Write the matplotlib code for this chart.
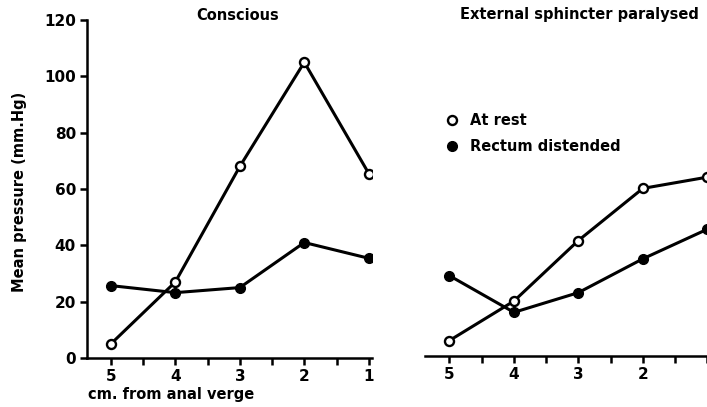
import matplotlib
matplotlib.use('Agg')
from matplotlib import pyplot as plt
from matplotlib.lines import Line2D

# distance from anal verge (cm)
distance = [5, 4, 3, 2, 1]

# mean pressure (mm Hg)
conscious_rest = [5, 27, 68, 105, 65.5]
conscious_distended = [25.7, 23.2, 25, 41, 35.4]
paralysed_rest = [5.5, 19.5, 41, 59.5, 63.5]
paralysed_distended = [28.5, 15.5, 22.5, 34.5, 45]

plt.rcParams['font.family'] = 'DejaVu Sans'
plt.rcParams['font.weight'] = 'bold'

W, H = 707, 407
fig = plt.figure(figsize=(W / 100, H / 100), dpi=100)

lw = 2.2
ms = 6.5
open_style = dict(color='black', lw=lw, marker='o', ms=ms, mfc='white', mec='black', mew=1.7)
fill_style = dict(color='black', lw=lw, marker='o', ms=ms + 0.5, mfc='black', mec='black')

# left panel: conscious
ax1 = fig.add_axes([87 / W, (H - 358) / H, 285 / W, 338 / H])
ax1.plot(distance, conscious_rest, **open_style, zorder=3)
ax1.plot(distance, conscious_distended, **fill_style, zorder=2)
ax1.set_xlim(5.37, 0.95)
ax1.set_ylim(0, 120)
ax1.set_yticks(range(0, 121, 20))
ax1.set_xticks(distance)
ax1.set_xticks([4.5, 3.5, 2.5, 1.5], minor=True)
for s in ['top', 'right']:
    ax1.spines[s].set_visible(False)
for s in ['left', 'bottom']:
    ax1.spines[s].set_linewidth(1.8)

# right panel: external sphincter paralysed
ax2 = fig.add_axes([425 / W, (H - 356) / H, 290 / W, 338 / H])
ax2.plot(distance, paralysed_rest, **open_style, zorder=3, clip_on=False)
ax2.plot(distance, paralysed_distended, **fill_style, zorder=2, clip_on=False)
ax2.set_xlim(5.38, 0.88)
ax2.set_ylim(0, 120)
ax2.set_yticks([])
ax2.set_xticks(distance)
ax2.set_xticks([4.5, 3.5, 2.5, 1.5], minor=True)
for s in ['top', 'right', 'left']:
    ax2.spines[s].set_visible(False)
ax2.spines['bottom'].set_linewidth(1.8)

for ax in (ax1, ax2):
    ax.tick_params(which='both', direction='out', length=5, width=1.8, labelsize=11, pad=3)
    for lab in ax.get_xticklabels() + ax.get_yticklabels():
        lab.set_fontweight('bold')

# the "1" label of the right panel falls past the picture's edge
fig.canvas.draw()
ax2.get_xticklabels()[-1].set_visible(False)

handles = [Line2D([], [], ls='none', marker='o', ms=ms, mfc='white', mec='black', mew=1.7),
           Line2D([], [], ls='none', marker='o', ms=ms + 0.5, mfc='black', mec='black')]
fig.legend(handles, ['At rest', 'Rectum distended'], loc='upper left',
           bbox_to_anchor=(432 / W, 1 - 100 / H), frameon=False, handlelength=1,
           handletextpad=0.7, labelspacing=0.75, prop=dict(size=10.5, weight='bold'))

fig.text(238 / W, 1 - 16 / H, 'Conscious', ha='center', va='center', fontsize=10.5, fontweight='bold')
fig.text(579 / W, 1 - 15 / H, 'External sphincter paralysed', ha='center', va='center',
         fontsize=10.5, fontweight='bold')
fig.text(20 / W, 1 - 192 / H, 'Mean pressure (mm.Hg)', rotation=90, ha='center', va='center',
         fontsize=10.5, fontweight='bold')
fig.text(88 / W, 1 - 395 / H, 'cm. from anal verge', ha='left', va='center',
         fontsize=10.5, fontweight='bold')

fig.savefig('out.png', dpi=100)
